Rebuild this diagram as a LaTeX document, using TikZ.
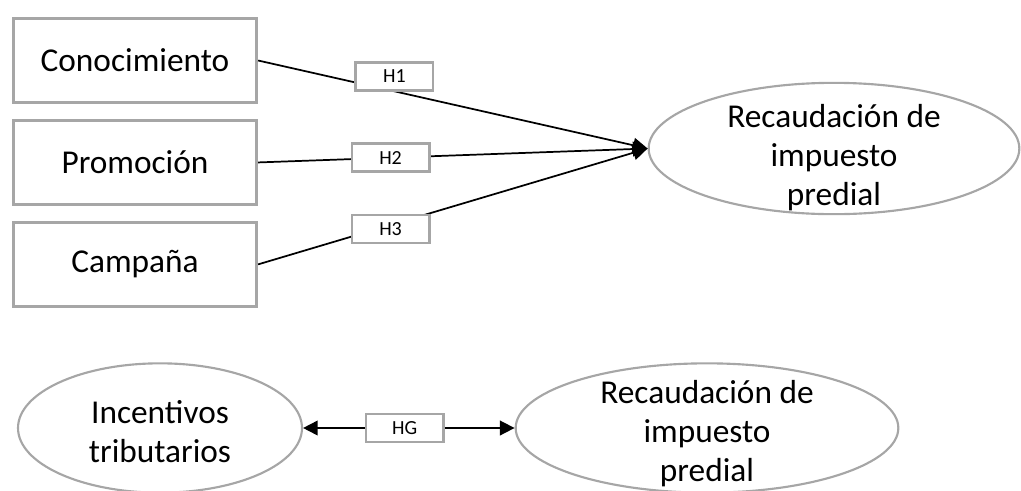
\documentclass[tikz,border=0pt]{standalone}
\usepackage{fontspec}
\setmainfont{Carlito}
\usetikzlibrary{shapes.geometric,arrows.meta,positioning}
\definecolor{framegray}{RGB}{166,166,166}

\begin{document}
\begin{tikzpicture}[x=0.75pt, y=-0.75pt, node distance=11.25pt, >={Triangle[length=11pt, width=11pt]},
  factor/.style={rectangle, draw=framegray, line width=2.2pt, minimum width=182.5pt, minimum height=63pt, inner sep=0pt, font=\fontsize{25}{29}\selectfont},
  goal/.style={ellipse, draw=framegray, line width=1.6pt, inner sep=0pt},
  goaltext/.style={align=center, font=\fontsize{25}{29.25}\selectfont},
  hyp/.style={rectangle, draw=framegray, fill=white, line width=2pt, minimum width=58pt, minimum height=21pt, inner sep=0pt, font=\fontsize{15}{18}\selectfont},
  link/.style={line width=1.3pt, ->}]
\useasboundingbox (0,0) rectangle (1021,490);

\node[factor] (con) at (135,60.5) {Conocimiento};
\node[factor, below=of con] (pro) {Promoción};
\node[factor, below=of pro] (cam) {Campaña};
\node[goal, minimum width=278pt, minimum height=98.5pt, label={[goaltext, yshift=-6.5pt]center:Recaudación de\\impuesto\\predial}] (rec1) at (834,148.5) {};

\draw[link] (con.east) -- node[hyp, pos=0.35, yshift=11.25pt] (h1) {H1} (rec1.west);
\draw[link] (pro.east) -- node[hyp, pos=0.34] (h2) {H2} (rec1.west);
\draw[link] (cam.east) -- node[hyp, pos=0.34, yshift=-3pt] (h3) {H3} (rec1.west);

% modelo general
\node[goal, minimum width=213pt, minimum height=97pt, label={[goaltext, yshift=-3pt]center:Incentivos\\tributarios}] (inc) at (160,428) {};
\node[goal, minimum width=287pt, minimum height=97pt, label={[goaltext, yshift=-4.5pt]center:Recaudación de\\impuesto\\predial}] (rec2) at (707,428) {};

\draw[link, <->] (inc.east) -- node[hyp, pos=0.48] (hg) {HG} (rec2.west);
\end{tikzpicture}
\end{document}
